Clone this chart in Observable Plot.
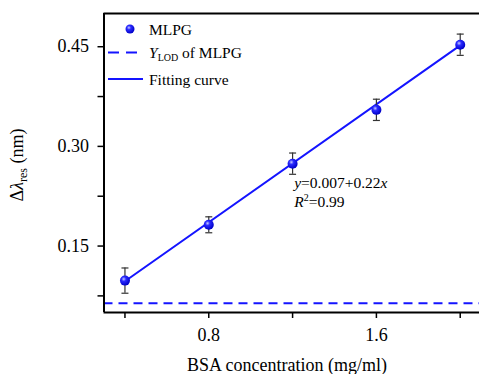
<!DOCTYPE html>
<html>
<head>
<meta charset="utf-8">
<script src="https://cdn.jsdelivr.net/npm/d3@7"></script>
<script src="https://cdn.jsdelivr.net/npm/@observablehq/plot@0.6"></script>
<style>
  html, body { margin: 0; padding: 0; background: white; }
  svg text, svg tspan { font-family: 'Liberation Serif' !important; white-space: normal !important; font-variant: normal !important; }
</style>
</head>
<body>
<div id="chart"></div>
<script>
// ---- data ----
const concentration = [0.4, 0.8, 1.2, 1.6, 2.0];
const shift = [0.098, 0.182, 0.274, 0.355, 0.453];
const shiftError = [0.019, 0.012, 0.016, 0.016, 0.016];
const fitX = [0.4, 2.0];
const fitY = [0.097, 0.452];
const lodValue = 0.064;
const xMajorTicks = [0.8, 1.6];
const xMinorTicks = [0.4, 1.2, 2.0];
const yMajorTicks = [0.15, 0.30, 0.45];
const yMinorTicks = [0.075, 0.225, 0.375];
const xTitle = "BSA concentration (mg/ml)";
const seriesName = "MLPG";
const fitName = "Fitting curve";
const fitEquation = ["y", "=0.007+0.22", "x"];
const fitR2 = "0.99";

const data = concentration.map((x, i) => ({x, y: shift[i], lo: shift[i] - shiftError[i], hi: shift[i] + shiftError[i]}));
const fit = fitX.map((x, i) => ({x, y: fitY[i]}));

const BLUE = "#1414ff";
const FONT = "Liberation Serif";
const capSymbol = {
  draw(ctx, size) {
    const r = Math.sqrt(size / Math.PI);
    ctx.moveTo(-r, 0);
    ctx.lineTo(r, 0);
  }
};

const plot = Plot.plot({
  width: 479,
  height: 374,
  marginLeft: 103.5,
  marginRight: 0,
  marginTop: 13,
  marginBottom: 62,
  x: {domain: [0.3, 2.092]},
  y: {domain: [0.05, 0.5]},
  marks: [
    Plot.ruleY([lodValue], {stroke: BLUE, strokeWidth: 2, strokeDasharray: "9,6"}),
    Plot.line(fit, {x: "x", y: "y", stroke: BLUE, strokeWidth: 2}),
    Plot.ruleX(data, {x: "x", y1: "lo", y2: "hi", stroke: "#333", strokeWidth: 1.2}),
    Plot.dot(data, {x: "x", y: "lo", symbol: capSymbol, r: 3.5, stroke: "#333", strokeWidth: 1.2}),
    Plot.dot(data, {x: "x", y: "hi", symbol: capSymbol, r: 3.5, stroke: "#333", strokeWidth: 1.2}),
    Plot.dot(data, {x: "x", y: "y", r: 5, fill: "url(#sphere)", stroke: "none"}),
    Plot.axisY(yMajorTicks, {tickSize: 6, tickPadding: 9, tickFormat: d3.format(".2f"), fontSize: 18, label: null, strokeWidth: 1.5}),
    Plot.axisY(yMinorTicks, {tickSize: 6, tickFormat: () => "", label: null, strokeWidth: 1.5}),
    Plot.axisX(xMajorTicks, {tickSize: 6, tickPadding: 10, tickFormat: d3.format(".1f"), fontSize: 18, label: null, strokeWidth: 1.5}),
    Plot.axisX(xMinorTicks, {tickSize: 6, tickFormat: () => "", label: null, strokeWidth: 1.5}),
    Plot.ruleX([0.3], {stroke: "black", strokeWidth: 2}),
    Plot.ruleY([0.05], {stroke: "black", strokeWidth: 2}),
    Plot.ruleY([0.5], {stroke: "black", strokeWidth: 2})
  ]
});

plot.setAttribute("font-family", FONT);
plot.style.background = "white";
plot.style.color = "black";
plot.querySelectorAll("[font-variant]").forEach(n => n.removeAttribute("font-variant"));
document.getElementById("chart").appendChild(plot);

const svg = d3.select(plot);
const defs = svg.insert("defs", ":first-child");
const grad = defs.append("radialGradient").attr("id", "sphere")
  .attr("cx", "38%").attr("cy", "35%").attr("r", "65%");
grad.append("stop").attr("offset", "0%").attr("stop-color", "#c8ccff");
grad.append("stop").attr("offset", "35%").attr("stop-color", "#2a2aff");
grad.append("stop").attr("offset", "100%").attr("stop-color", "#0000c8");

const xs = plot.scale("x"), ys = plot.scale("y");

// axis titles
svg.append("text").attr("x", 287).attr("y", 371).attr("text-anchor", "middle")
  .attr("font-family", FONT).attr("font-size", 18).attr("fill", "black").text(xTitle);

const yl = svg.append("text").attr("transform", "translate(23,165) rotate(-90)")
  .attr("text-anchor", "middle").attr("font-size", 18).attr("font-family", FONT).attr("fill", "black");
yl.append("tspan").text("Δ");
yl.append("tspan").attr("font-style", "italic").text("λ");
yl.append("tspan").attr("font-size", 12).attr("dy", 4).text("res");
yl.append("tspan").attr("dy", -4).text(" (nm)");

// annotation
const ax = xs.apply(1.21);
const eq = svg.append("text").attr("x", ax).attr("y", ys.apply(0.2446) + 5).attr("text-anchor", "start")
  .attr("font-size", 15.5).attr("font-family", FONT).attr("fill", "black");
eq.append("tspan").attr("font-style", "italic").text(fitEquation[0]);
eq.append("tspan").text(fitEquation[1]);
eq.append("tspan").attr("font-style", "italic").text(fitEquation[2]);
const r2 = svg.append("text").attr("x", ax).attr("y", ys.apply(0.216) + 5).attr("text-anchor", "start")
  .attr("font-size", 15.5).attr("font-family", FONT).attr("fill", "black");
r2.append("tspan").attr("font-style", "italic").text("R");
r2.append("tspan").attr("font-size", 10).attr("dy", -6).text("2");
r2.append("tspan").attr("dy", 6).text("=" + fitR2);

// legend
const lg = svg.append("g").attr("font-family", FONT).attr("font-size", 15.5).attr("fill", "black").attr("text-anchor", "start");
lg.append("circle").attr("cx", 130).attr("cy", 29).attr("r", 4.5).attr("fill", "url(#sphere)");
lg.append("text").attr("x", 149).attr("y", 34.5).text(seriesName);
lg.append("line").attr("x1", 108).attr("x2", 143).attr("y1", 52.5).attr("y2", 52.5)
  .attr("stroke", BLUE).attr("stroke-width", 2).attr("stroke-dasharray", "11,7");
const lt = lg.append("text").attr("x", 149).attr("y", 58);
lt.append("tspan").attr("font-style", "italic").text("Y");
lt.append("tspan").attr("font-size", 10).attr("dy", 3).text("LOD");
lt.append("tspan").attr("dy", -3).text(" of " + seriesName);
lg.append("line").attr("x1", 108).attr("x2", 143).attr("y1", 79).attr("y2", 79)
  .attr("stroke", BLUE).attr("stroke-width", 2);
lg.append("text").attr("x", 149).attr("y", 84.5).text(fitName);
</script>
</body>
</html>
